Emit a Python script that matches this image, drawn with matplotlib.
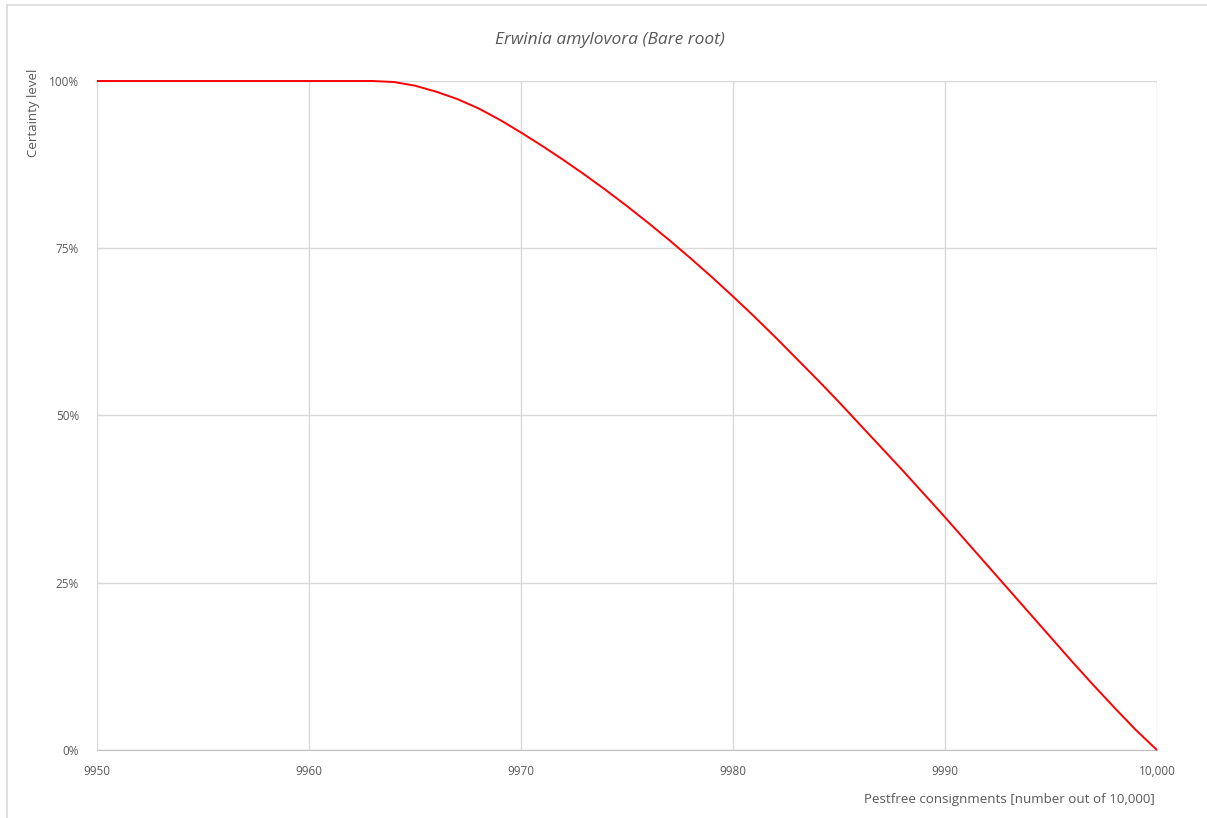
import matplotlib.pyplot as plt
from matplotlib.patches import Rectangle
from matplotlib.ticker import FuncFormatter

# values
consignments = [9950, 9963, 9964, 9965, 9966, 9967, 9968, 9969, 9970, 9971,
                9972, 9973, 9974, 9975, 9976, 9977, 9978, 9979, 9980, 9981,
                9982, 9983, 9984, 9985, 9986, 9987, 9988, 9989, 9990, 9991,
                9992, 9993, 9994, 9995, 9996, 9997, 9998, 9999, 10000]
certainty = [100, 100, 99.85, 99.3, 98.4, 97.3, 95.9, 94.2, 92.3, 90.3,
             88.2, 86.0, 83.7, 81.3, 78.8, 76.2, 73.5, 70.7, 67.8, 64.8,
             61.7, 58.5, 55.3, 52.0, 48.6, 45.2, 41.8, 38.3, 34.8, 31.2,
             27.6, 24.0, 20.4, 16.8, 13.2, 9.7, 6.3, 3.0, 0]
xticks = [9950, 9960, 9970, 9980, 9990, 10000]
yticks = [0, 25, 50, 75, 100]

plt.rcParams['font.family'] = ['Open Sans', 'DejaVu Sans']
txt = '#595959'
grid = '#d9d9d9'

W, H = 1207, 818
fig = plt.figure(figsize=(W / 100, H / 100), dpi=100)
ax = fig.add_axes([97 / W, 1 - 750 / H, (1157 - 97) / W, (750 - 81) / H])

# outer chart frame (runs off the right and bottom edge)
fig.patches.append(Rectangle((7 / W, -0.1), 1.2, 1 - 5 / H + 0.1,
                             transform=fig.transFigure, fill=False,
                             edgecolor=grid, linewidth=1.2))

ax.plot(consignments, certainty, color='#ff0000', linewidth=1.4, zorder=3,
        clip_on=False, solid_capstyle='butt')

ax.set_xlim(9950, 10000)
ax.set_ylim(0, 100)
ax.set_xticks(xticks)
ax.set_yticks(yticks)
ax.xaxis.set_major_formatter(FuncFormatter(lambda v, p: f'{int(v):,}' if v >= 10000 else f'{int(v)}'))
ax.yaxis.set_major_formatter(FuncFormatter(lambda v, p: f'{int(v)}%'))
ax.tick_params(length=0, labelsize=8.5, labelcolor=txt)
ax.tick_params(axis='x', pad=11)
ax.tick_params(axis='y', pad=13)
ax.grid(True, color=grid, linewidth=1)
ax.set_axisbelow(True)
for s in ['top', 'right', 'left']:
    ax.spines[s].set_visible(False)
ax.spines['bottom'].set_color('#bfbfbf')

fig.text(610 / W, 1 - 40 / H, 'Erwinia amylovora (Bare root)', ha='center', va='center',
         fontsize=12.5, style='italic', color=txt)
fig.text(33 / W, 1 - 69 / H, 'Certainty level', rotation=90, ha='center', va='top',
         fontsize=9.5, color=txt)
fig.text(1155 / W, 1 - 800 / H, 'Pestfree consignments [number out of 10,000]',
         ha='right', va='center', fontsize=9.6, color=txt)

fig.savefig('out.png', dpi=100, facecolor='white')
